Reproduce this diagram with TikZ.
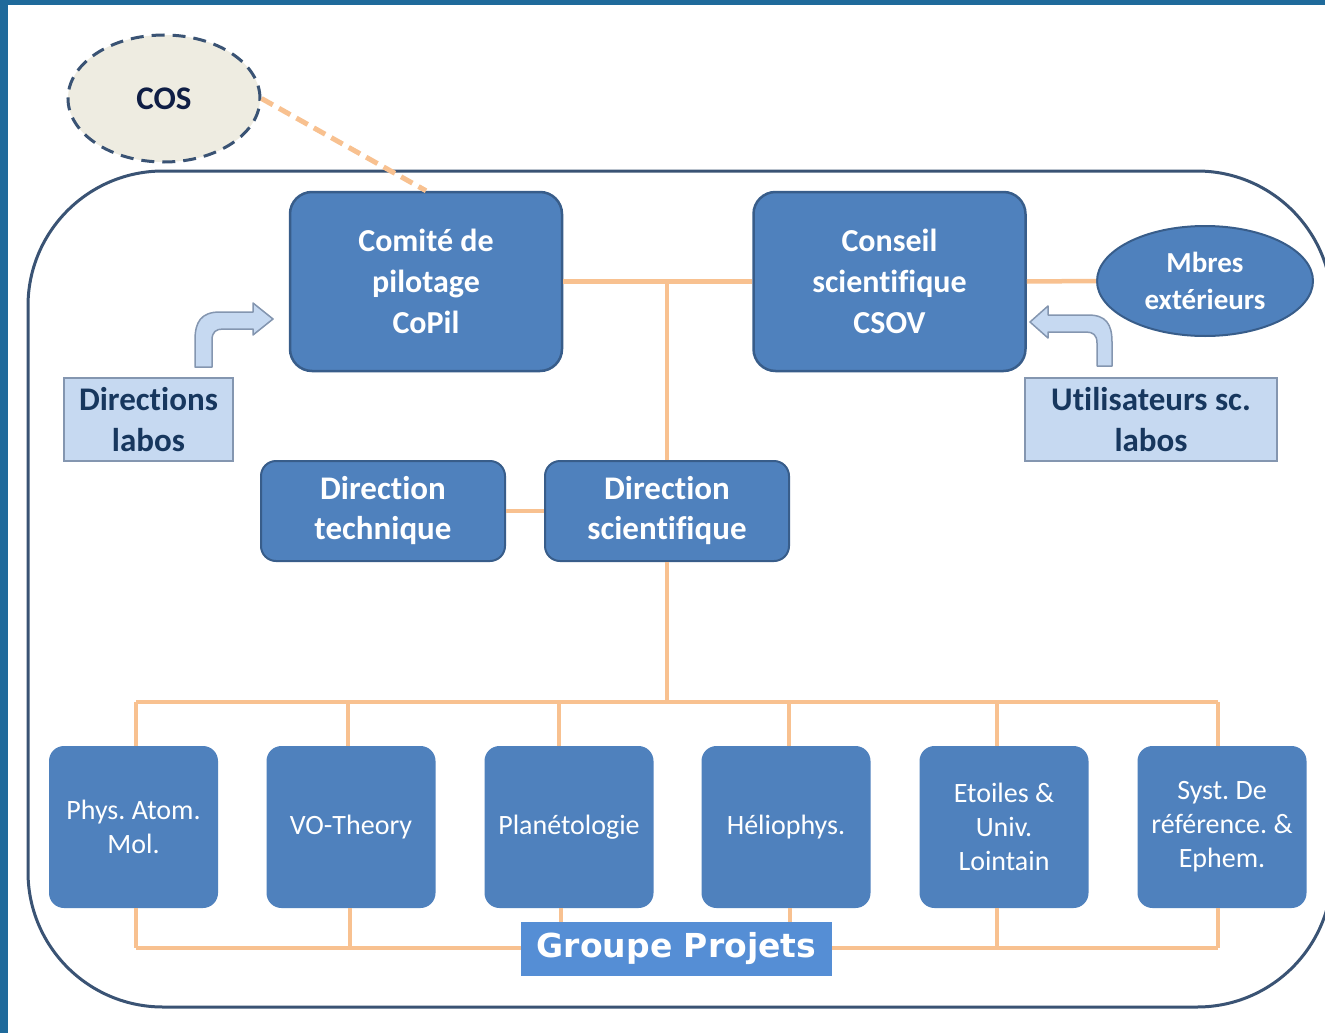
\documentclass[tikz,border=0pt]{standalone}
\usepackage{fontspec}
\setmainfont{Carlito}[Ligatures=NoCommon]
\newfontfamily\verdfont{DejaVu Sans}
\usetikzlibrary{shapes.geometric}
\definecolor{boxblue}{HTML}{4F81BD}
\definecolor{boxedge}{HTML}{385D8A}
\definecolor{lineorange}{HTML}{F8C190}
\definecolor{lightfill}{HTML}{C6D9F1}
\definecolor{lightedge}{HTML}{8496B0}
\definecolor{navytext}{HTML}{17375E}
\definecolor{cosnavy}{HTML}{0F1E45}
\definecolor{framebl}{HTML}{1F6A9B}
\definecolor{outlinec}{HTML}{3A5374}
\definecolor{cosfill}{HTML}{EEECE1}
\definecolor{gpblue}{HTML}{558ED5}
\tikzset{
  bigbox/.style={draw=boxedge, fill=boxblue, line width=2.5, rounded corners=22, text=white,
    font=\fontsize{32}{41}\selectfont\bfseries, align=center, inner sep=0,
    minimum width=272, minimum height=179},
  dirbox/.style={draw=boxedge, fill=boxblue, line width=2, rounded corners=15, text=white,
    font=\fontsize{33}{40}\selectfont\bfseries, align=center, inner sep=0,
    minimum width=244, minimum height=100},
  projbox/.style={fill=boxblue, rounded corners=15, text=white,
    font=\fontsize{28}{34}\selectfont, align=center, inner sep=0,
    minimum width=169, minimum height=162},
  lightbox/.style={draw=lightedge, fill=lightfill, line width=1.5, text=navytext,
    font=\fontsize{33}{41}\selectfont\bfseries, align=center, inner sep=0, minimum height=83},
  bentarrow/.style={draw=lightedge, fill=lightfill, line width=1.5, line join=round},
  link/.style={draw=lineorange, line width=4.5},
}
\frenchspacing
\begin{document}
\begin{tikzpicture}[x=1pt,y=-1pt]
\useasboundingbox (0,0) rectangle (1325,1033);
\fill[white] (0,0) rectangle (1325,1033);
\fill[framebl] (0,0) rectangle (1325,5);
\fill[framebl] (0,0) rectangle (8,1033);
\begin{scope}
  \clip (0,0) rectangle (1325,1033);
  \draw[outlinec, line width=3, rounded corners=135] (28,171) rectangle (1332,1007);
\end{scope}

% COS
\node[ellipse, draw=outlinec, dash pattern=on 13 off 8, line width=3, fill=cosfill,
  minimum width=192, minimum height=127, inner sep=0, text=cosnavy,
  font=\fontsize{33}{36}\selectfont\bfseries] (cos) at (164,98.5) {COS};

% main boxes
\node[bigbox] (copil) at (426,281.5) {Comité de\\pilotage\\CoPil};
\node[bigbox] (csov) at (889.5,281.5) {Conseil\\scientifique\\CSOV};
\node[ellipse, draw=boxedge, fill=boxblue, line width=2, minimum width=216, minimum height=110,
  inner sep=0, text=white, align=center, font=\fontsize{29}{37}\selectfont\bfseries]
  (mbres) at (1205,281) {Mbres\\extérieurs};
\node[dirbox] (dtech) at (383,511) {Direction\\technique};
\node[dirbox] (dsci) at (667,511) {Direction\\scientifique};

\node[lightbox, minimum width=169] (dlabos) at (148.5,419.5) {Directions\\labos};
\node[lightbox, minimum width=252] (ulabos) at (1151,419.5) {Utilisateurs sc.\\labos};

% bent arrows
\path[bentarrow] (195,367) -- (195,340) .. controls (195,322) and (201,312) .. (220,312)
  -- (253,312) -- (253,303) -- (273,319) -- (253,335) -- (253,329) -- (223,329)
  .. controls (216,329) and (212,332) .. (212,340) -- (212,367) -- cycle;
\path[bentarrow] (1112,366) -- (1112,342) .. controls (1112,324) and (1106,315) .. (1088,315)
  -- (1048,315) -- (1048,306) -- (1030,322) -- (1048,338) -- (1048,332) -- (1086,332)
  .. controls (1093,332) and (1097,335) .. (1097,343) -- (1097,366) -- cycle;

% dashed link
\draw[lineorange, line width=5, dash pattern=on 13 off 7] (cos.east) -- (copil.north);

% links
\coordinate (j1) at (667,281.5);
\draw[link] (copil.east) -- (csov.west);
\draw[link] (csov.east) -- (mbres.west);
\draw[link] (j1) -- (dsci.north);
\draw[link] (dtech.east) -- (dsci.west);

% project boxes
\node[projbox] (b1) at (133.5,827) {Phys. Atom.\\Mol.};
\node[projbox] (b2) at (351,827) {VO-Theory};
\node[projbox] (b3) at (569,827) {Planétologie};
\node[projbox] (b4) at (786,827) {Héliophys.};
\node[projbox] (b5) at (1004,827) {Etoiles \&\\Univ.\\Lointain};
\node[projbox] (b6) at (1222,827) {Syst. De\\référence. \&\\Ephem.};

% top bus
\coordinate (bus) at (667,702);
\draw[link] (dsci.south) -- (bus);
\coordinate (d1) at (136,702);
\coordinate (d2) at (348,702);
\coordinate (d3) at (559,702);
\coordinate (d4) at (789,702);
\coordinate (d5) at (997,702);
\coordinate (d6) at (1218,702);
\draw[link] (d1) -- (d6);
\foreach \i in {1,...,6} { \draw[link] (d\i) -- (d\i |- b\i.north); }

% bottom bus
\coordinate (e1) at (136,948);
\coordinate (e2) at (350,948);
\coordinate (e3) at (561,948);
\coordinate (e4) at (790,948);
\coordinate (e5) at (997,948);
\coordinate (e6) at (1218,948);
\draw[link] (e1) -- (e6);
\foreach \i in {1,...,6} { \draw[link] (e\i |- b\i.south) -- (e\i); }

\node[fill=gpblue, minimum width=311, minimum height=54, inner sep=0, text=white,
  font=\verdfont\bfseries\fontsize{33}{36}\selectfont] (gp) at (676.5,948.5) {Groupe Projets};
\end{tikzpicture}
\end{document}
